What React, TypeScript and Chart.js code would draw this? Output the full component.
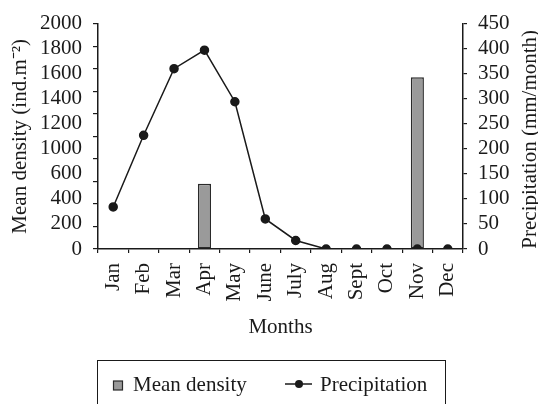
import React, { useEffect, useRef } from "react";
import { Chart, registerables } from "chart.js";

Chart.register(...registerables);

const months = ["Jan", "Feb", "Mar", "Apr", "May", "June", "July", "Aug", "Sept", "Oct", "Nov", "Dec"];
const density = [null, null, null, 580, null, null, null, null, null, null, 1525, null];
const precipitation = [84, 227, 360, 397, 294, 60, 17, 0, 0, 0, 0, 0];
const leftTickLabels = ["0", "200", "400", "600", "1000", "1200", "1400", "1600", "1800", "2000"];

const FONT = "'Liberation Serif', 'Times New Roman', serif";
const INK = "#1a1a1a";

const rightTitlePlugin = {
  id: "rightTitle",
  afterDraw(chart: any) {
    const { ctx, chartArea } = chart;
    ctx.save();
    ctx.fillStyle = INK;
    ctx.font = `21px ${FONT}`;
    ctx.textAlign = "center";
    ctx.textBaseline = "middle";
    ctx.translate(530, (chartArea.top + chartArea.bottom) / 2 + 3);
    ctx.rotate(-Math.PI / 2);
    ctx.fillText("Precipitation (mm/month)", 0, 0);
    ctx.restore();
  },
};

const boxLegendPlugin = {
  id: "boxLegend",
  afterDraw(chart: any) {
    const { ctx } = chart;
    const ds = chart.data.datasets;
    ctx.save();
    ctx.strokeStyle = INK;
    ctx.lineWidth = 1;
    ctx.strokeRect(97.5, 360.5, 348, 60);
    // bar item
    ctx.fillStyle = ds[0].backgroundColor;
    ctx.fillRect(113.5, 381, 9, 9);
    ctx.strokeStyle = ds[0].borderColor;
    ctx.lineWidth = 1.2;
    ctx.strokeRect(113.5, 381, 9, 9);
    ctx.fillStyle = INK;
    ctx.font = `21px ${FONT}`;
    ctx.textAlign = "left";
    ctx.textBaseline = "middle";
    ctx.fillText(ds[0].label, 133, 385);
    // line item
    ctx.strokeStyle = ds[1].borderColor;
    ctx.lineWidth = 1.5;
    ctx.beginPath();
    ctx.moveTo(285, 384);
    ctx.lineTo(312, 384);
    ctx.stroke();
    ctx.fillStyle = ds[1].pointBackgroundColor;
    ctx.beginPath();
    ctx.arc(299, 384, 4, 0, Math.PI * 2);
    ctx.fill();
    ctx.fillStyle = INK;
    ctx.fillText(ds[1].label, 320, 385);
    ctx.restore();
  },
};

export default function App() {
  const ref = useRef<HTMLCanvasElement>(null);

  useEffect(() => {
    if (!ref.current) return;
    const font = { family: FONT, size: 21 };
    const chart = new Chart(ref.current, {
      type: "bar",
      data: {
        labels: months,
        datasets: [
          {
            type: "bar",
            label: "Mean density",
            data: density as any,
            yAxisID: "y",
            backgroundColor: "#9a9a9a",
            borderColor: "#2a2a2a",
            borderWidth: 1.5,
            borderSkipped: false,
            barPercentage: 0.43,
            categoryPercentage: 1,
            order: 2,
          },
          {
            type: "line",
            label: "Precipitation",
            data: precipitation,
            yAxisID: "y2",
            borderColor: INK,
            borderWidth: 1.5,
            pointBackgroundColor: INK,
            pointBorderColor: INK,
            pointRadius: 4,
            tension: 0,
            order: 1,
          } as any,
        ],
      },
      options: {
        animation: false,
        responsive: false,
        layout: { padding: { top: 20, left: 0, right: 0, bottom: 60 } },
        plugins: {
          legend: { display: false },
          tooltip: { enabled: false },
        },
        scales: {
          x: {
            type: "category",
            position: "bottom",
            offset: true,
            grid: {
              display: true,
              drawOnChartArea: false,
              drawTicks: true,
              tickLength: 4,
              offset: true,
              color: INK,
              lineWidth: 1.2,
            },
            border: { display: true, color: INK, width: 1.5 },
            ticks: {
              font,
              color: INK,
              minRotation: 90,
              maxRotation: 90,
              autoSkip: false,
              padding: 10,
            },
            title: { display: true, text: "Months", font, color: INK, padding: { top: 4, bottom: 4 } },
            afterFit(scale: any) {
              scale.height = 95;
            },
          },
          y: {
            type: "linear",
            position: "left",
            weight: 0,
            min: 0,
            max: 2000,
            ticks: { stepSize: 200, display: false, autoSkip: false },
            grid: {
              display: true,
              drawOnChartArea: false,
              drawTicks: true,
              tickLength: 5,
              color: INK,
              lineWidth: 1.2,
            },
            border: { display: true, color: INK, width: 1.5 },
            afterFit(scale: any) {
              scale.width = 6;
            },
          },
          yl: {
            type: "linear",
            position: "left",
            weight: 1,
            min: 0,
            max: leftTickLabels.length - 1,
            ticks: {
              stepSize: 1,
              autoSkip: false,
              font,
              color: INK,
              padding: 10,
              callback: (v: any) => leftTickLabels[Number(v)] ?? "",
            },
            grid: { display: false, drawTicks: false },
            border: { display: false },
            title: {
              display: true,
              text: "Mean density (ind.m\u207B\u00B2)",
              font,
              color: INK,
              padding: { top: 8, bottom: 0 },
            },
            afterFit(scale: any) {
              scale.width = 92;
            },
          },
          y2: {
            type: "linear",
            position: "right",
            min: 0,
            max: 450,
            ticks: { stepSize: 50, autoSkip: false, font, color: INK, padding: 11 },
            grid: {
              display: true,
              drawOnChartArea: false,
              drawTicks: true,
              tickLength: 4,
              color: INK,
              lineWidth: 1.2,
            },
            border: { display: true, color: INK, width: 1.5 },
            afterFit(scale: any) {
              scale.width = 75;
            },
          },
        },
      } as any,
      plugins: [rightTitlePlugin, boxLegendPlugin],
    });
    return () => chart.destroy();
  }, []);

  return (
    <div style={{ position: "absolute", left: 0, top: 0, width: 538, height: 404, background: "#fff" }}>
      <canvas ref={ref} width={538} height={404} style={{ width: 538, height: 404, display: "block" }} />
    </div>
  );
}
